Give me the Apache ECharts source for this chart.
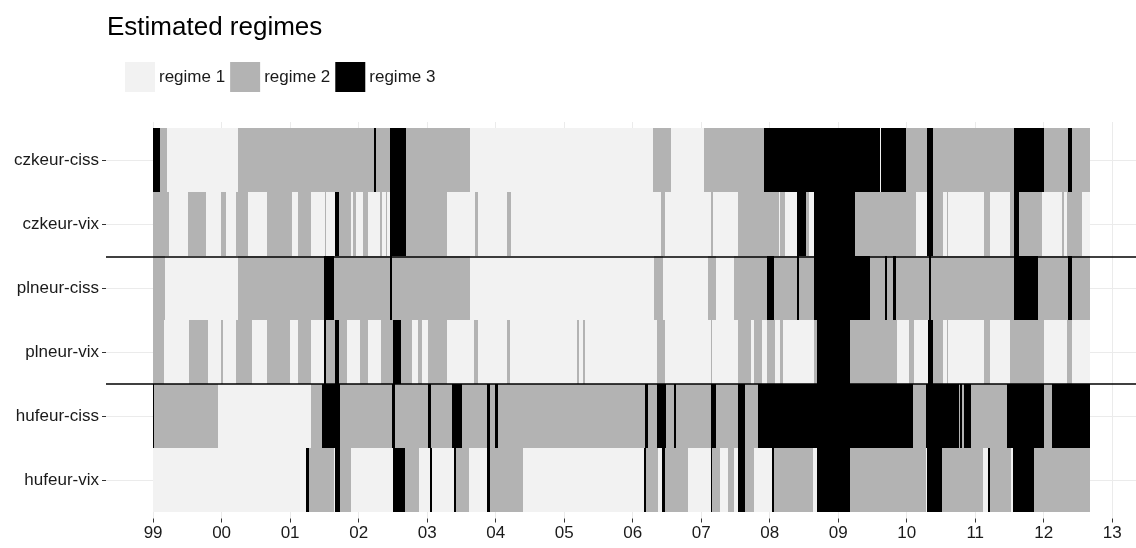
<!DOCTYPE html>
<html>
<head>
<meta charset="utf-8">
<script src="https://cdn.jsdelivr.net/npm/echarts@6/dist/echarts.min.js"></script>
<style>
html,body{margin:0;padding:0;background:#fff;}
#chart{width:1136px;height:548px;}
</style>
</head>
<body>
<div id="chart"></div>
<script>
// ---- data (decimal years; each pair = [segment end, regime]) ----
const rowNames = ["czkeur-ciss", "czkeur-vix", "plneur-ciss", "plneur-vix", "hufeur-ciss", "hufeur-vix"];
const regimeNames = ["regime 1", "regime 2", "regime 3"];
const regimeColors = ["#F2F2F2", "#B3B3B3", "#000000"];
const startYear = 1999.0;
const tickYears = [1999,2000,2001,2002,2003,2004,2005,2006,2007,2008,2009,2010,2011,2012,2013];
const tickLabels = ["99","00","01","02","03","04","05","06","07","08","09","10","11","12","13"];

const czkeurCiss = [[1999.10,3],[1999.21,2],[2000.24,1],[2002.23,2],[2002.25,3],[2002.46,2],[2002.69,3],[2003.63,2],[2006.30,1],[2006.56,2],[2007.04,1],[2007.92,2],[2009.61,3],[2009.63,1],[2009.99,3],[2010.30,2],[2010.38,3],[2011.57,2],[2012.00,3],[2012.36,2],[2012.41,3],[2012.68,2]];

const czkeurVix = [[1999.23,2],[1999.51,1],[1999.77,2],[1999.99,1],[2000.06,2],[2000.21,1],[2000.38,2],[2000.66,1],[2001.03,2],[2001.12,1],[2001.30,2],[2001.51,1],[2001.53,2],[2001.66,1],[2001.71,3],[2001.89,2],[2001.92,1],[2001.96,2],[2002.07,1],[2002.14,2],[2002.31,1],[2002.34,2],[2002.40,1],[2002.42,2],[2002.46,1],[2002.69,3],[2003.29,2],[2003.70,1],[2003.74,2],[2004.16,1],[2004.22,2],[2006.41,1],[2006.47,2],[2007.14,1],[2007.17,2],[2007.54,1],[2008.13,2],[2008.15,1],[2008.22,2],[2008.40,1],[2008.53,3],[2008.57,2],[2008.65,1],[2009.25,3],[2010.13,2],[2010.30,1],[2010.38,3],[2010.53,2],[2010.59,1],[2010.61,2],[2011.13,1],[2011.22,2],[2011.51,1],[2011.56,2],[2011.64,3],[2011.98,2],[2012.26,1],[2012.29,2],[2012.34,1],[2012.56,2],[2012.68,1]];

const plneurCiss = [[1999.17,2],[2000.24,1],[2001.50,2],[2001.64,3],[2002.46,2],[2002.48,3],[2003.63,2],[2006.31,1],[2006.44,2],[2007.10,1],[2007.22,2],[2007.48,1],[2007.96,2],[2008.06,3],[2008.40,2],[2008.43,3],[2008.65,2],[2009.46,3],[2009.68,2],[2009.71,3],[2009.80,2],[2009.84,3],[2010.33,2],[2010.35,3],[2011.57,2],[2011.92,3],[2012.36,2],[2012.41,3],[2012.68,2]];

const plneurVix = [[1999.16,2],[1999.52,1],[1999.80,2],[1999.99,1],[2000.02,2],[2000.21,1],[2000.44,2],[2000.66,1],[2001.00,2],[2001.12,1],[2001.30,2],[2001.50,1],[2001.52,3],[2001.66,2],[2001.71,3],[2001.83,2],[2002.02,1],[2002.14,2],[2002.33,1],[2002.50,2],[2002.62,3],[2002.78,2],[2002.87,1],[2002.93,2],[2003.01,1],[2003.29,2],[2003.68,1],[2003.74,2],[2004.17,1],[2004.21,2],[2005.19,1],[2005.22,2],[2005.27,1],[2005.30,2],[2006.36,1],[2006.47,2],[2007.14,1],[2007.16,2],[2007.54,1],[2007.73,2],[2007.77,1],[2007.89,2],[2007.96,1],[2008.08,2],[2008.15,1],[2008.19,2],[2008.65,1],[2008.69,2],[2009.17,3],[2009.86,2],[2010.03,1],[2010.11,2],[2010.31,1],[2010.38,3],[2010.53,2],[2010.59,1],[2010.61,2],[2011.13,1],[2011.22,2],[2011.51,1],[2012.00,2],[2012.34,1],[2012.41,2],[2012.68,1]];

const hufeurCiss = [[1999.02,3],[1999.95,2],[2001.30,1],[2001.47,2],[2001.73,3],[2002.48,2],[2002.53,3],[2003.01,2],[2003.06,3],[2003.36,2],[2003.51,3],[2003.87,2],[2003.92,3],[2003.99,2],[2004.03,3],[2006.18,2],[2006.22,3],[2006.36,2],[2006.49,3],[2006.60,2],[2006.63,3],[2007.14,2],[2007.22,3],[2007.54,2],[2007.64,3],[2007.83,2],[2010.09,3],[2010.28,2],[2010.76,3],[2010.78,2],[2010.80,3],[2010.84,2],[2010.94,3],[2011.46,2],[2012.00,3],[2012.12,2],[2012.68,3]];

const hufeurVix = [[2001.23,1],[2001.28,3],[2001.64,2],[2001.66,1],[2001.73,3],[2001.89,2],[2002.50,1],[2002.68,3],[2002.88,2],[2003.04,1],[2003.07,3],[2003.39,1],[2003.42,3],[2003.61,2],[2003.87,1],[2003.92,3],[2004.40,2],[2006.17,1],[2006.20,3],[2006.37,2],[2006.43,1],[2006.47,3],[2006.81,2],[2007.14,1],[2007.16,3],[2007.27,2],[2007.39,1],[2007.48,2],[2007.54,1],[2007.64,3],[2007.77,2],[2008.03,1],[2008.06,3],[2008.63,2],[2008.69,1],[2009.17,3],[2010.28,2],[2010.30,1],[2010.52,3],[2011.11,2],[2011.19,1],[2011.22,3],[2011.52,2],[2011.55,1],[2011.86,3],[2012.68,2]];

const rows = [czkeurCiss, czkeurVix, plneurCiss, plneurVix, hufeurCiss, hufeurVix];

// ---- build series data: [start, end, rowIndex(1..6)] per regime ----
const seriesData = [[], [], []];
rows.forEach((segs, r) => {
  let prev = startYear;
  segs.forEach(([end, reg]) => {
    seriesData[reg - 1].push([prev, end, r + 1]);
    prev = end;
  });
});

function renderItem(params, api) {
  const s = api.value(0), e = api.value(1), row = api.value(2);
  const p1 = api.coord([s, row - 0.5]);
  const p2 = api.coord([e, row + 0.5]);
  const x0 = Math.round(p1[0]);
  const x1 = Math.round(p2[0]);
  const y0 = Math.round(Math.min(p1[1], p2[1]));
  const y1 = Math.round(Math.max(p1[1], p2[1]));
  return {
    type: 'rect',
    shape: { x: x0, y: y0, width: Math.max(1, x1 - x0), height: y1 - y0 },
    style: { fill: api.visual('color') }
  };
}

const FONT = "'Liberation Sans', Arial, Helvetica, sans-serif";

const series = regimeNames.map((name, i) => ({
  type: 'custom',
  name: name,
  renderItem: renderItem,
  itemStyle: { color: regimeColors[i] },
  encode: { x: [0, 1], y: 2 },
  data: seriesData[i],
  clip: true,
  silent: true
}));

series.push({
  type: 'line',
  name: 'separators',
  data: [],
  silent: true,
  markLine: {
    silent: true,
    symbol: ['none', 'none'],
    label: { show: false },
    lineStyle: { color: '#000', width: 1.6, type: 'solid' },
    data: [{ yAxis: 2.5 }, { yAxis: 4.5 }]
  }
});

const chart = echarts.init(document.getElementById('chart'), null, { renderer: 'canvas' });
chart.setOption({
  animation: false,
  backgroundColor: '#ffffff',
  textStyle: { fontFamily: FONT },
  title: {
    text: 'Estimated regimes',
    left: 107,
    top: 15,
    padding: 0,
    textStyle: { fontFamily: FONT, fontSize: 26, fontWeight: 'normal', color: '#000' }
  },
  legend: {
    left: 125,
    top: 62,
    padding: 0,
    itemWidth: 30,
    itemHeight: 30,
    itemGap: 5,
    icon: 'rect',
    selectedMode: false,
    data: regimeNames,
    textStyle: { fontFamily: FONT, fontSize: 17, color: '#1a1a1a', padding: [0, 0, 0, -1] }
  },
  grid: { left: 106, right: 0, top: 122, bottom: 29.5, containLabel: false },
  xAxis: {
    type: 'value',
    min: 1998.3125,
    max: 2013.347,
    axisLine: { show: false },
    axisTick: { show: true, length: 4, lineStyle: { color: '#333' }, customValues: tickYears },
    axisLabel: {
      customValues: tickYears,
      margin: 6,
      fontFamily: FONT, fontSize: 17, color: '#1a1a1a',
      formatter: v => tickLabels[tickYears.indexOf(Math.round(v))]
    },
    splitLine: { show: true, lineStyle: { color: '#EBEBEB', width: 1 } }
  },
  yAxis: {
    type: 'value',
    inverse: true,
    min: 0.4,
    max: 6.6,
    axisLine: { show: false },
    axisTick: { show: true, length: 4, lineStyle: { color: '#333' }, customValues: [1,2,3,4,5,6] },
    axisLabel: {
      customValues: [1,2,3,4,5,6],
      margin: 7,
      fontFamily: FONT, fontSize: 17, color: '#1a1a1a',
      formatter: v => rowNames[Math.round(v) - 1]
    },
    splitLine: { show: true, lineStyle: { color: '#EBEBEB', width: 1 } }
  },
  series: series
});
</script>
</body>
</html>
